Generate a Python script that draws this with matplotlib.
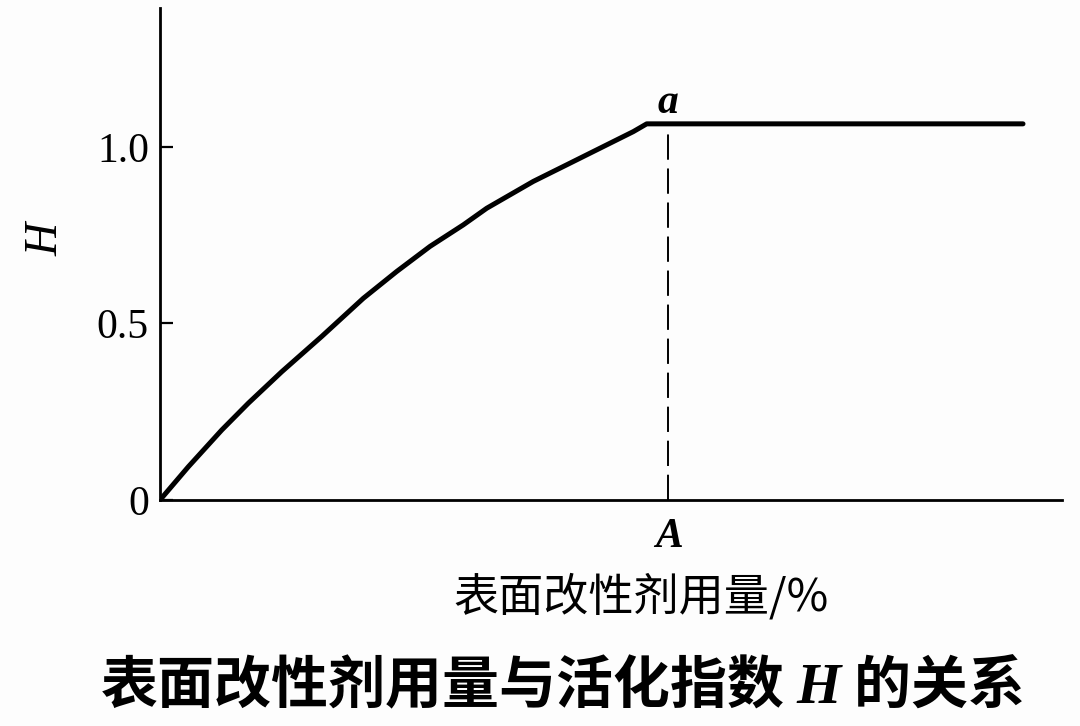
import matplotlib
matplotlib.use("Agg")
import matplotlib.pyplot as plt

plt.rcParams['mathtext.fontset'] = 'custom'
plt.rcParams['mathtext.it'] = 'Liberation Serif:italic:bold'
plt.rcParams['mathtext.rm'] = 'Liberation Serif'

# data (dosage in arbitrary units, H activation index)
dosage = [0.0, 0.283, 0.617, 0.883, 1.217, 1.617, 2.033, 2.367, 2.70, 3.033,
          3.267, 3.733, 4.067, 4.40, 4.733, 4.867, 8.63]
H_vals = [0.0, 0.094, 0.198, 0.274, 0.363, 0.463, 0.571, 0.647, 0.718, 0.779,
          0.826, 0.902, 0.949, 0.996, 1.043, 1.065, 1.065]
A_x = 5.08
y_ticks = [0.0, 0.5, 1.0]
y_tick_labels = ["0", "0.5", "1.0"]
xlabel = "表面改性剂用量/%"
title = "表面改性剂用量与活化指数 $H$ 的关系"

fig = plt.figure(figsize=(10.8, 7.26), dpi=100)
fig.patch.set_facecolor('#fdfdfd')
ax = fig.add_axes([160/1080, 1-500/726, (1062-160)/1080, (500-8)/726])
ax.set_facecolor('#fdfdfd')

ax.plot(dosage, H_vals, color='black', lw=3.6, solid_capstyle='round', solid_joinstyle='round')
ax.plot([A_x, A_x], [0, H_vals[-1]], color='black', lw=1.4, dashes=(13, 4.5))

ax.set_xlim(0, 9.02)
ax.set_ylim(0, 1.393)
for s in ['top', 'right']:
    ax.spines[s].set_visible(False)
for s in ['left', 'bottom']:
    ax.spines[s].set_linewidth(2.0)
ax.set_xticks([])
ax.set_yticks(y_ticks)
ax.set_yticklabels(y_tick_labels, family='Liberation Serif', fontsize=30)
ax.tick_params(axis='y', direction='in', length=9.5, width=1.6, pad=8)

ax.text(A_x, 1.065 + 0.005, "$a$", ha='center', va='bottom', fontsize=30)
ax.text(A_x, -0.04, "$A$", ha='center', va='top', fontsize=30)

fig.text(46/1080, 1-239/726, "H", family='Liberation Serif', style='italic',
         fontsize=33, rotation=90, ha='center', va='center')

fig.text(641/1080, 1-597/726, xlabel, family=['Noto Sans CJK SC', 'DejaVu Sans'],
         fontsize=32.5, ha='center', va='center')
fig.text(562/1080, 1-686/726, title, family=['Noto Sans CJK SC', 'DejaVu Sans'],
         fontsize=41, fontweight='bold', ha='center', va='center')

fig.savefig("out.png", dpi=100, facecolor=fig.get_facecolor())
